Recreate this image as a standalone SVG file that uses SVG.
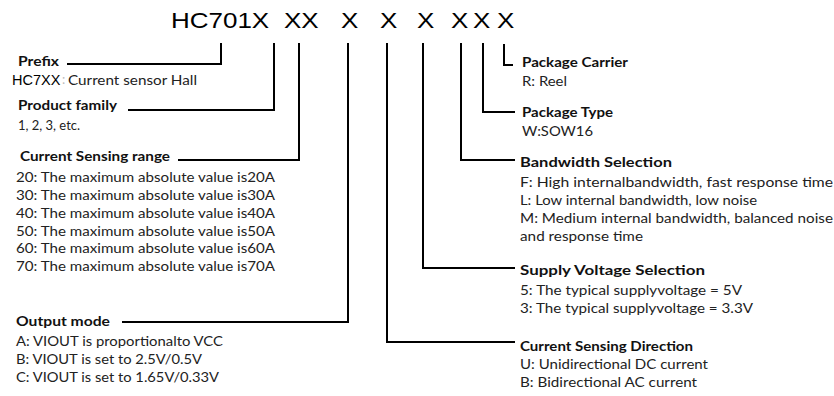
<svg xmlns="http://www.w3.org/2000/svg" width="834" height="396" viewBox="0 0 834 396">
<style>
.t{font-family:Lato,"Liberation Sans",sans-serif;font-size:13px;fill:#222}
.h{font-weight:bold;fill:#111}
.ar{font-family:"Liberation Sans",Arial,sans-serif;fill:#000}
.ln{fill:none;stroke:#000;stroke-width:2}
</style>
<rect width="834" height="396" fill="#fff"/>
<g id="title" class="ar" font-size="26">
<text transform="translate(171 28) scale(1 0.88)">HC701X</text>
<text transform="translate(284 28) scale(1 0.88)">XX</text>
<text transform="translate(341 28) scale(1 0.88)">X</text>
<text transform="translate(380 28) scale(1 0.88)">X</text>
<text transform="translate(417 28) scale(1 0.88)">X</text>
<text transform="translate(451 28) scale(1 0.88)">X</text>
<text transform="translate(473 28) scale(1 0.88)">X</text>
<text transform="translate(497 28) scale(1 0.88)">X</text>
</g>
<g id="connectors">
<polyline class="ln" points="67,64 221,64 221,43"/>
<polyline class="ln" points="128,110 274,110 274,43"/>
<polyline class="ln" points="178,160 299,160 299,43"/>
<polyline class="ln" points="122,322 348,322 348,43"/>
<polyline class="ln" points="515,342 387,342 387,43"/>
<polyline class="ln" points="515,268 423,268 423,43"/>
<polyline class="ln" points="515,160 461,160 461,43"/>
<polyline class="ln" points="515,112 483,112 483,43"/>
<polyline class="ln" points="513,65 504,65 504,44"/>
</g>
<g id="prefix">
<text class="t h" x="18" y="66" textLength="41" lengthAdjust="spacingAndGlyphs">Prefix</text>
<text class="ar" x="12" y="85" font-size="14.5">HC7XX</text>
<text class="t" x="62" y="84" fill="#bbb" style="fill:#bbb">:</text>
<text class="t" x="68" y="85" textLength="129" lengthAdjust="spacingAndGlyphs">Current sensor Hall</text>
</g>
<g id="product-family">
<text class="t h" x="18" y="110" textLength="99" lengthAdjust="spacingAndGlyphs">Product family</text>
<text class="t" x="18" y="130" textLength="62" lengthAdjust="spacingAndGlyphs">1, 2, 3, etc.</text>
</g>
<g id="current-sensing-range">
<text class="t h" x="20" y="161" textLength="150" lengthAdjust="spacingAndGlyphs">Current Sensing range</text>
<text class="t" x="16" y="182" textLength="259" lengthAdjust="spacingAndGlyphs">20: The maximum absolute value is20A</text>
<text class="t" x="16" y="200" textLength="259" lengthAdjust="spacingAndGlyphs">30: The maximum absolute value is30A</text>
<text class="t" x="16" y="218" textLength="259" lengthAdjust="spacingAndGlyphs">40: The maximum absolute value is40A</text>
<text class="t" x="16" y="236" textLength="259" lengthAdjust="spacingAndGlyphs">50: The maximum absolute value is50A</text>
<text class="t" x="16" y="253" textLength="259" lengthAdjust="spacingAndGlyphs">60: The maximum absolute value is60A</text>
<text class="t" x="16" y="271" textLength="259" lengthAdjust="spacingAndGlyphs">70: The maximum absolute value is70A</text>
</g>
<g id="output-mode">
<text class="t h" x="16" y="326" textLength="94" lengthAdjust="spacingAndGlyphs">Output mode</text>
<text class="t" x="16" y="346" textLength="207" lengthAdjust="spacingAndGlyphs">A: VIOUT is proportionalto VCC</text>
<text class="t" x="16" y="364" textLength="186" lengthAdjust="spacingAndGlyphs">B: VIOUT is set to 2.5V/0.5V</text>
<text class="t" x="16" y="382" textLength="203" lengthAdjust="spacingAndGlyphs">C: VIOUT is set to 1.65V/0.33V</text>
</g>
<g id="package-carrier">
<text class="t h" x="522" y="67" textLength="106" lengthAdjust="spacingAndGlyphs">Package Carrier</text>
<text class="t" x="522" y="86" textLength="45" lengthAdjust="spacingAndGlyphs">R: Reel</text>
</g>
<g id="package-type">
<text class="t h" x="522" y="117" textLength="91" lengthAdjust="spacingAndGlyphs">Package Type</text>
<text class="t" x="522" y="136" textLength="71" lengthAdjust="spacingAndGlyphs">W:SOW16</text>
</g>
<g id="bandwidth-selection">
<text class="t h" x="520" y="167" textLength="152" lengthAdjust="spacingAndGlyphs">Bandwidth Selection</text>
<text class="t" x="520" y="187" textLength="313" lengthAdjust="spacingAndGlyphs">F:  High internalbandwidth, fast response time</text>
<text class="t" x="520" y="205" textLength="237" lengthAdjust="spacingAndGlyphs">L:  Low internal bandwidth, low noise</text>
<text class="t" x="520" y="223" textLength="313" lengthAdjust="spacingAndGlyphs">M: Medium internal bandwidth, balanced noise</text>
<text class="t" x="520" y="241" textLength="123" lengthAdjust="spacingAndGlyphs">and response time</text>
</g>
<g id="supply-voltage-selection">
<text class="t h" x="520" y="275" textLength="185" lengthAdjust="spacingAndGlyphs">Supply Voltage Selection</text>
<text class="t" x="520" y="295" textLength="222" lengthAdjust="spacingAndGlyphs">5:  The typical supplyvoltage = 5V</text>
<text class="t" x="520" y="313" textLength="233" lengthAdjust="spacingAndGlyphs">3:  The typical supplyvoltage = 3.3V</text>
</g>
<g id="current-sensing-direction">
<text class="t h" x="520" y="351" textLength="173" lengthAdjust="spacingAndGlyphs">Current Sensing Direction</text>
<text class="t" x="520" y="369" textLength="188" lengthAdjust="spacingAndGlyphs">U: Unidirectional DC current</text>
<text class="t" x="520" y="387" textLength="177" lengthAdjust="spacingAndGlyphs">B: Bidirectional AC current</text>
</g>
</svg>
